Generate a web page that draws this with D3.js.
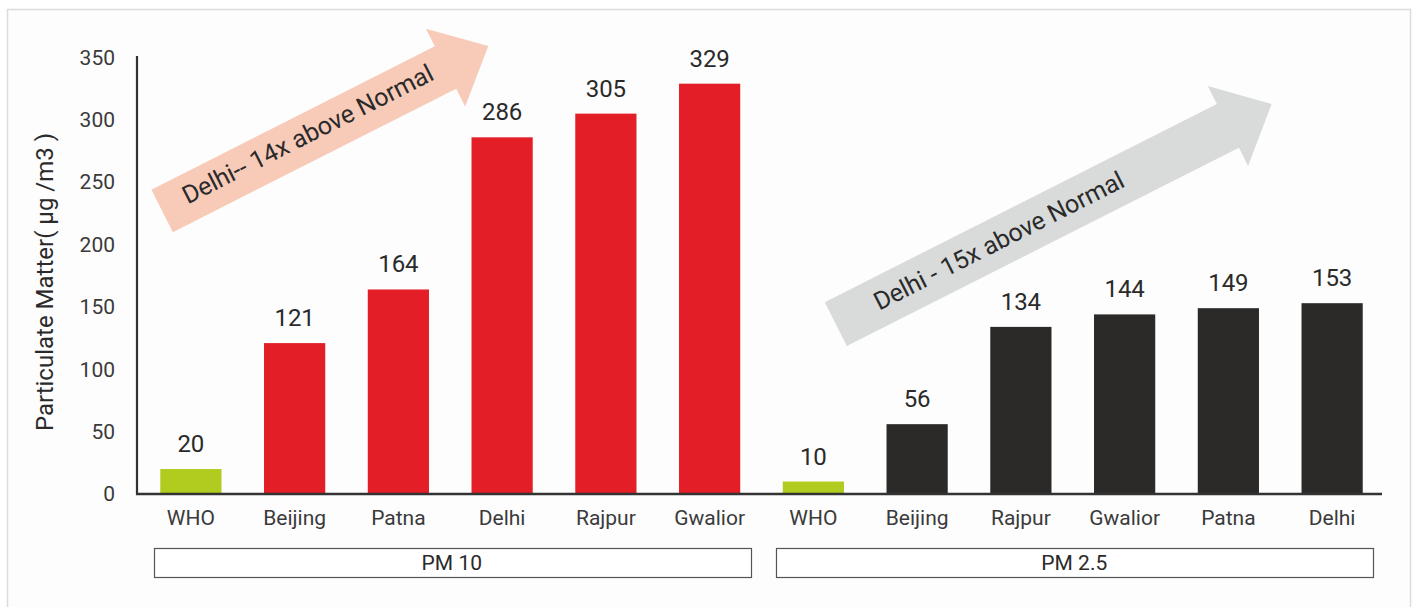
<!DOCTYPE html>
<html>
<head>
<meta charset="utf-8">
<script src="https://cdn.jsdelivr.net/npm/d3@7"></script>
<style>
  html, body { margin: 0; padding: 0; background: #ffffff; }
  svg { display: block; }
  text { font-family: Roboto, "Noto Sans", sans-serif; }
</style>
</head>
<body>
<svg id="chart" width="1414" height="607"></svg>
<script>
// ---------- data ----------
const groups = ["PM 10", "PM 2.5"];
const pm10Cities = ["WHO", "Beijing", "Patna", "Delhi", "Rajpur", "Gwalior"];
const pm10Values = [20, 121, 164, 286, 305, 329];
const pm25Cities = ["WHO", "Beijing", "Rajpur", "Gwalior", "Patna", "Delhi"];
const pm25Values = [10, 56, 134, 144, 149, 153];
const yTicks = [0, 50, 100, 150, 200, 250, 300, 350];
const yTitle = "Particulate Matter( µg /m3 )";
const arrowLabels = ["Delhi-- 14x above Normal", "Delhi - 15x above Normal"];
// arrow anchors in data space: [category index (fractional), value]
const arrowTails = [[-0.277, 227], [6.216, 136.3]];
const arrowTips = [[2.867, 359.3], [10.417, 312.8]];

// ---------- build rows ----------
const rows = [];
pm10Cities.forEach((c, i) => rows.push({ group: 0, city: c, value: pm10Values[i] }));
pm25Cities.forEach((c, i) => rows.push({ group: 1, city: c, value: pm25Values[i] }));
rows.forEach(r => r.key = groups[r.group] + "|" + r.city);

// ---------- styles ----------
const textColor = "#3a3a3a";
const barColor = (r) => r.city === "WHO" ? "#b1cb1f" : (r.group === 0 ? "#e31e26" : "#2b2a29");
const arrowColors = ["#f8cbb9", "#d9dbda"];

const svg = d3.select("#chart");

// frame
svg.append("rect").attr("x", 7.5).attr("y", 9.5).attr("width", 1403).attr("height", 640)
  .attr("fill", "#fdfdfd").attr("stroke", "#dcdcdc").attr("stroke-width", 1.5);

// ---------- scales ----------
const x = d3.scaleBand().domain(rows.map(r => r.key)).range([139, 1384])
  .paddingInner(0.41).paddingOuter(0.205);
const y = d3.scaleLinear().domain([0, 350]).range([494, 57.5]);
const cx0 = x(rows[0].key) + x.bandwidth() / 2;
const xi = (i) => cx0 + i * x.step();

// ---------- arrows (annotations) ----------
const arrowGeom = [
  { shaft: 47.6, head: 87, headLen: 48, textAlong: 0.45, textOff: 3 },
  { shaft: 49, head: 89.4, headLen: 49, textAlong: 0.375, textOff: 1 }
];
arrowTails.forEach((t, k) => {
  const T = [xi(t[0]), y(t[1])];
  const P = [xi(arrowTips[k][0]), y(arrowTips[k][1])];
  const dx = P[0] - T[0], dy = P[1] - T[1];
  const L = Math.hypot(dx, dy);
  const u = [dx / L, dy / L];
  const n = [-u[1], u[0]];
  const g = arrowGeom[k];
  const hb = [P[0] - u[0] * g.headLen, P[1] - u[1] * g.headLen];
  const off = (p, s) => [p[0] + n[0] * s, p[1] + n[1] * s];
  const pts = [
    off(T, g.shaft / 2), off(hb, g.shaft / 2), off(hb, g.head / 2), P,
    off(hb, -g.head / 2), off(hb, -g.shaft / 2), off(T, -g.shaft / 2)
  ];
  svg.append("polygon").attr("points", pts.map(p => p.join(",")).join(" "))
    .attr("fill", arrowColors[k]);
  const ang = Math.atan2(u[1], u[0]) * 180 / Math.PI;
  const c0 = [T[0] + u[0] * L * g.textAlong, T[1] + u[1] * L * g.textAlong];
  const c = off(c0, -g.textOff);
  svg.append("text")
    .attr("transform", `translate(${c[0]},${c[1]}) rotate(${ang})`)
    .attr("text-anchor", "middle").attr("dy", "0.35em")
    .attr("font-size", 25).attr("fill", "#2a2a2a")
    .text(arrowLabels[k]);
});

// ---------- bars ----------
svg.append("g").selectAll("rect").data(rows).join("rect")
  .attr("x", d => x(d.key)).attr("width", x.bandwidth())
  .attr("y", d => y(d.value)).attr("height", d => y(0) - y(d.value))
  .attr("fill", barColor);

// value labels
svg.append("g").selectAll("text").data(rows).join("text")
  .attr("x", d => x(d.key) + x.bandwidth() / 2)
  .attr("y", d => y(d.value) - 17)
  .attr("text-anchor", "middle").attr("font-size", 24).attr("fill", "#2a2a2a")
  .text(d => d.value);

// ---------- axes ----------
const yAxis = d3.axisLeft(y).tickValues(yTicks).tickSize(0).tickPadding(22);
const gy = svg.append("g").attr("transform", "translate(137,0)").call(yAxis);
gy.select(".domain").remove();
gy.selectAll("text").attr("font-size", 21).attr("fill", textColor)
  .attr("font-family", "Roboto, sans-serif");
svg.append("line").attr("x1", 137).attr("x2", 137).attr("y1", 56).attr("y2", 495)
  .attr("stroke", "#333").attr("stroke-width", 2.2);

const xAxis = d3.axisBottom(x).tickSize(0).tickPadding(16).tickFormat(k => k.split("|")[1]);
const gx = svg.append("g").attr("transform", "translate(0,494)").call(xAxis);
gx.select(".domain").remove();
gx.selectAll("text").attr("font-size", 21).attr("fill", textColor)
  .attr("font-family", "Roboto, sans-serif");
svg.append("line").attr("x1", 136).attr("x2", 1382).attr("y1", 494).attr("y2", 494)
  .attr("stroke", "#333").attr("stroke-width", 2.5);

// y title
svg.append("text").attr("transform", "translate(53,282) rotate(-90)")
  .attr("text-anchor", "middle").attr("font-size", 24).attr("fill", "#2a2a2a")
  .text(yTitle);

// ---------- group boxes ----------
groups.forEach((gname, gi) => {
  const gr = rows.filter(r => r.group === gi);
  const first = x(gr[0].key) + x.bandwidth() / 2;
  const last = x(gr[gr.length - 1].key) + x.bandwidth() / 2;
  const x0 = first - 0.36 * x.step();
  const x1 = last + 0.39 * x.step();
  svg.append("rect").attr("x", Math.round(x0) + 0.5).attr("y", 548.5)
    .attr("width", Math.round(x1 - x0)).attr("height", 29)
    .attr("fill", "#ffffff").attr("stroke", "#555").attr("stroke-width", 1.2);
  svg.append("text").attr("x", (x0 + x1) / 2).attr("y", 570)
    .attr("text-anchor", "middle").attr("font-size", 21).attr("fill", "#2a2a2a")
    .text(gname);
});
</script>
</body>
</html>
